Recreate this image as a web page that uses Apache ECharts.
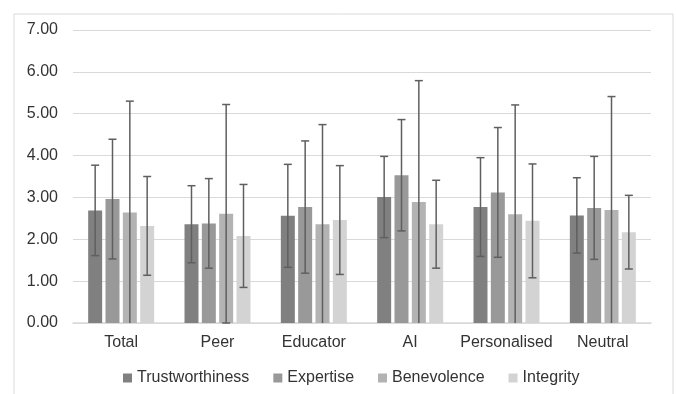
<!DOCTYPE html>
<html>
<head>
<meta charset="utf-8">
<script src="https://cdn.jsdelivr.net/npm/echarts@6/dist/echarts.min.js"></script>
<style>html,body{margin:0;padding:0;background:#fff;}#c{width:676px;height:394px;}</style>
</head>
<body>
<div id="c"></div>
<script>
const categories = ['Total', 'Peer', 'Educator', 'AI', 'Personalised', 'Neutral'];
const seriesNames = ['Trustworthiness', 'Expertise', 'Benevolence', 'Integrity'];
const trustworthiness = [2.69, 2.36, 2.56, 3.01, 2.77, 2.57];
const trustworthinessSd = [1.08, 0.92, 1.23, 0.97, 1.18, 0.90];
const expertise = [2.96, 2.38, 2.77, 3.53, 3.12, 2.75];
const expertiseSd = [1.43, 1.07, 1.58, 1.33, 1.55, 1.23];
const benevolence = [2.64, 2.61, 2.36, 2.89, 2.60, 2.70];
const benevolenceSd = [2.66, 2.61, 2.38, 2.90, 2.61, 2.71];
const integrity = [2.32, 2.08, 2.46, 2.36, 2.44, 2.17];
const integritySd = [1.18, 1.23, 1.30, 1.05, 1.36, 0.88];
const yTicks = [0, 1, 2, 3, 4, 5, 6, 7];

const means = [trustworthiness, expertise, benevolence, integrity];
const sds = [trustworthinessSd, expertiseSd, benevolenceSd, integritySd];
const colors = ['#808080', '#999999', '#b3b3b3', '#d3d3d3'];
const CAT_GAP = 0.315, BAR_GAP = 0.24, N = 4;

const chart = echarts.init(document.getElementById('c'));
const series = [];
means.forEach((m, i) => {
  series.push({
    name: seriesNames[i], type: 'bar', data: m,
    itemStyle: { color: colors[i] },
    barGap: (BAR_GAP * 100) + '%', barCategoryGap: (CAT_GAP * 100) + '%',
    z: 2
  });
});
means.forEach((m, i) => {
  series.push({
    type: 'custom', name: seriesNames[i] + ' err', z: 5, silent: true,
    data: m.map((v, k) => [k, v, sds[i][k]]),
    encode: { x: 0, y: 1 },
    renderItem: function (params, api) {
      const k = api.value(0), v = api.value(1), sd = api.value(2);
      const catW = api.size([1, 0])[0];
      const bw = catW * (1 - CAT_GAP) / (N + (N - 1) * BAR_GAP);
      const off = (i - (N - 1) / 2) * bw * (1 + BAR_GAP);
      const lowV = v - sd;
      const top = api.coord([k, v + sd]);
      const bot = api.coord([k, Math.max(0, lowV)]);
      const x = top[0] + off;
      const st = { stroke: '#5f5f5f', lineWidth: 1.5 };
      const ch = [
        { type: 'line', shape: { x1: x, y1: top[1], x2: x, y2: bot[1] }, style: st },
        { type: 'line', shape: { x1: x - 4, y1: top[1], x2: x + 4, y2: top[1] }, style: st }
      ];
      if (lowV >= -0.001) ch.push({ type: 'line', shape: { x1: x - 4, y1: bot[1], x2: x + 4, y2: bot[1] }, style: st });
      return { type: 'group', children: ch };
    }
  });
});

chart.setOption({
  animation: false,
  textStyle: { fontFamily: 'Liberation Sans, Arial, sans-serif' },
  graphic: [{ type: 'rect', shape: { x: 14, y: 14, width: 659, height: 400 }, style: { fill: 'none', stroke: '#d9d9d9', lineWidth: 1 }, silent: true }],
  grid: { left: 73, right: 25, top: 30, bottom: 71 },
  legend: {
    data: seriesNames, bottom: 3, left: 118,
    itemWidth: 9, itemHeight: 9, itemGap: 24, icon: 'rect',
    textStyle: { fontSize: 16, color: '#333333', fontFamily: 'Liberation Sans, Arial, sans-serif' }
  },
  xAxis: {
    type: 'category', data: categories,
    axisLine: { lineStyle: { color: '#d9d9d9', width: 1.5 } },
    axisTick: { show: false },
    axisLabel: { fontSize: 16, color: '#333333', margin: 12, interval: 0 }
  },
  yAxis: {
    type: 'value', min: yTicks[0], max: yTicks[yTicks.length - 1], interval: 1,
    axisLine: { show: false }, axisTick: { show: false },
    splitLine: { lineStyle: { color: '#d9d9d9', width: 1 } },
    axisLabel: { fontSize: 16, color: '#333333', margin: 15, formatter: v => v.toFixed(2) }
  },
  series: series
});
</script>
</body>
</html>
